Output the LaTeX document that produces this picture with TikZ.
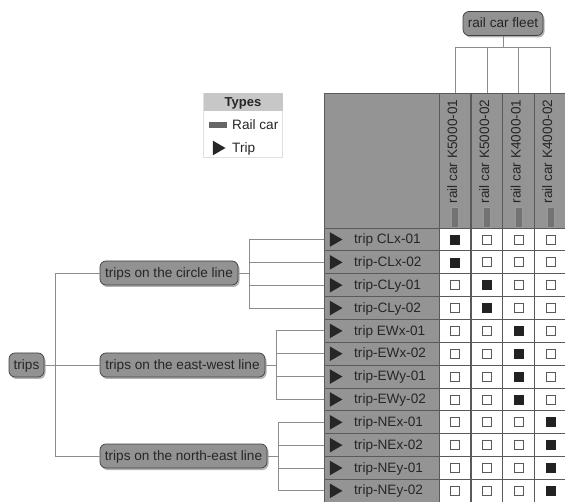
\documentclass[tikz,border=0pt]{standalone}
\usepackage{fontspec}
\setmainfont{Liberation Sans}
\usetikzlibrary{shapes.geometric,shadows}
\definecolor{hdr}{HTML}{949494}
\definecolor{gridc}{HTML}{5A5A5A}
\definecolor{conn}{HTML}{8C8C8C}
\definecolor{pillc}{HTML}{929292}
\definecolor{markc}{HTML}{222222}
\tikzset{
 x=1pt,y=-1pt,
 pill/.style={draw=black!75,line width=.7pt,fill=pillc,rounded corners=6pt,minimum height=24pt,inner sep=0pt,text height=11.5pt,text depth=3pt,font=\fontsize{13.6}{15}\selectfont,text=black!85,drop shadow={shadow xshift=1.5pt,shadow yshift=-2pt,fill=black,opacity=.3}},
 link/.style={draw=conn,line width=.8pt},
 cell/.style={draw=gridc,line width=.9pt,inner sep=0pt,outer sep=0pt},
 hcell/.style={cell,fill=hdr},
 tri/.style={fill=black!85,draw=none,regular polygon,regular polygon sides=3,shape border rotate=-90,inner sep=0pt,minimum size=17pt},
 on/.style={fill=markc,draw=markc,line width=.6pt,minimum size=9pt,inner sep=0pt},
 off/.style={fill=white,draw=black!65,line width=.7pt,minimum size=9pt,inner sep=0pt},
 rowtxt/.style={anchor=mid west,inner sep=0pt,yshift=-1.5pt,font=\fontsize{13.6}{15}\selectfont,text=black!85},
 cartxt/.style={rotate=90,anchor=mid east,inner sep=0pt,font=\fontsize{13.6}{15}\selectfont,text=black!85},
 caricon/.style={fill=black!55,draw=black!40,line width=.4pt,minimum width=7pt,minimum height=20pt,inner sep=0pt},
}
\begin{document}
\begin{tikzpicture}
\useasboundingbox (0,0) rectangle (565,502);
% header cells
\node[hcell,minimum width=115pt,minimum height=135pt] (corner) at (381.5,160.5) {};
\foreach \n/\cx in {1/455,2/487,3/518.5,4/550.5}{
  \node[hcell,minimum width=31.7pt,minimum height=135pt] (h\n) at (\cx,160.5) {};
  \node[caricon] (ic\n) at (\cx,217) {};
}
\node[cartxt] (t1) at (454.5,99.5) {rail car K5000-01};
\node[cartxt] (t2) at (486.5,99.5) {rail car K5000-02};
\node[cartxt] (t3) at (518,99.5) {rail car K4000-01};
\node[cartxt] (t4) at (549.5,99.5) {rail car K4000-02};
% rows
\foreach \r/\lab/\a/\b/\c/\d in {
 1/trip CLx-01/on/off/off/off,
 2/trip-CLx-02/on/off/off/off,
 3/trip-CLy-01/off/on/off/off,
 4/trip-CLy-02/off/on/off/off,
 5/trip EWx-01/off/off/on/off,
 6/trip-EWx-02/off/off/on/off,
 7/trip-EWy-01/off/off/on/off,
 8/trip-EWy-02/off/off/on/off,
 9/trip-NEx-01/off/off/off/on,
 10/trip-NEx-02/off/off/off/on,
 11/trip-NEy-01/off/off/off/on,
 12/trip-NEy-02/off/off/off/on}{
  \pgfmathsetmacro{\yy}{239.5+(\r-1)*22.85}
  \node[hcell,minimum width=115pt,minimum height=22.85pt] (r\r) at (381.5,\yy) {};
  \node[tri] (p\r) at (334,\yy) {};
  \node[rowtxt] (l\r) at (354,\yy) {\lab};
  \foreach \n/\cx/\st in {1/455/\a,2/487/\b,3/518.5/\c,4/550.5/\d}{
    \node[cell,fill=white,minimum width=31.7pt,minimum height=22.85pt] (c\r-\n) at (\cx,\yy) {};
    \node[\st] (m\r-\n) at (\cx,\yy) {};
  }
}
% legend
\node[draw=black!12,fill=white,line width=.6pt,minimum width=79pt,minimum height=64pt,inner sep=0pt] (leg) at (243,125) {};
\node[fill=black!22,minimum width=79pt,minimum height=18pt,inner sep=0pt,text height=12pt,text depth=3pt,font=\fontsize{13}{15}\selectfont\bfseries,text=black!85] (legh) at (243,102) {Types};
\node[fill=black!60,minimum width=18pt,minimum height=6pt,inner sep=0pt] (legc) at (218,125) {};
\node[rowtxt] (legct) at (232,125) {Rail car};
\node[tri] (legt) at (217,148) {};
\node[rowtxt] (legtt) at (232,148) {Trip};
% tree nodes
\node[pill,minimum width=80pt] (fleet) at (503,23.5) {rail car fleet};
\node[pill,minimum width=35pt] (trips) at (26.5,365) {trips};
\node[pill,minimum width=138pt] (circle) at (169,273) {trips on the circle line};
\node[pill,minimum width=165pt] (ew) at (182.5,365) {trips on the east-west line};
\node[pill,minimum width=167pt] (ne) at (183.5,456) {trips on the north-east line};
% junctions
\coordinate (jf) at (503,47);
\coordinate (jt) at (55,365);
\coordinate (jc) at (249,273);
\coordinate (je) at (276.5,365);
\coordinate (jn) at (278,456);
% connectors
\draw[link] (fleet.south) -- (jf);
\foreach \n in {1,...,4}{\draw[link] (jf) -| (h\n.north);}
\draw[link] (trips.east) -- (ew.west);
\draw[link] (jt) |- (circle.west);
\draw[link] (jt) |- (ne.west);
\draw[link] (circle.east) -- (jc);
\draw[link] (ew.east) -- (je);
\draw[link] (ne.east) -- (jn);
\foreach \r in {1,...,4}{\draw[link] (jc) |- (r\r.west);}
\foreach \r in {5,...,8}{\draw[link] (je) |- (r\r.west);}
\foreach \r in {9,...,12}{\draw[link] (jn) |- (r\r.west);}
\end{tikzpicture}
\end{document}
